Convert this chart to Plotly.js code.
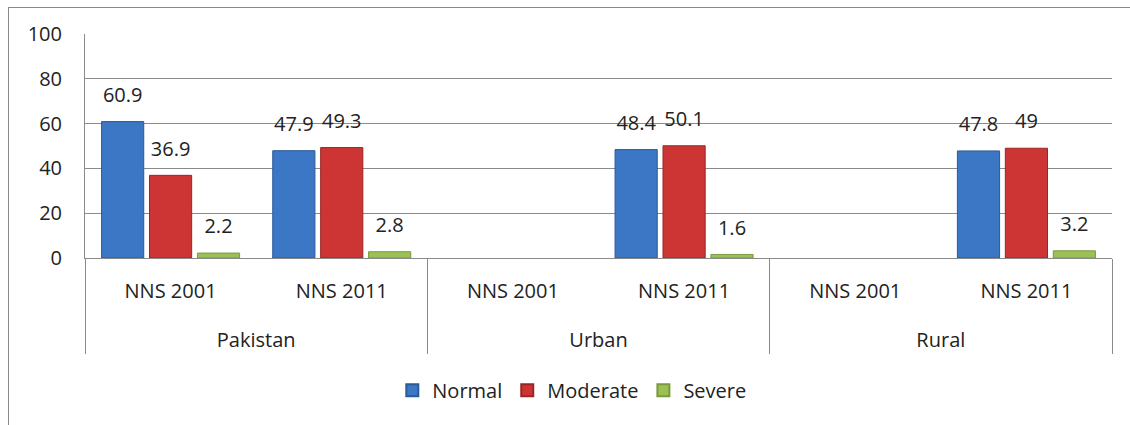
<!DOCTYPE html>
<html>
<head>
<meta charset="utf-8">
<script src="https://cdn.plot.ly/plotly-3.0.1.min.js"></script>
<style>
  html, body { margin: 0; padding: 0; background: #fff; }
  #frame { position: absolute; left: 8px; top: 7px; width: 1125px; height: 430px;
           border-top: 1px solid #8a8a8a; border-left: 1px solid #8a8a8a; }
  #chart { position: absolute; left: 0; top: 0; width: 1130px; height: 425px; }
</style>
</head>
<body>
<div id="frame"></div>
<div id="chart"></div>
<script>
const groups = ['Pakistan', 'Pakistan', 'Urban', 'Urban', 'Rural', 'Rural'];
const surveys = ['NNS 2001', 'NNS 2011', 'NNS 2001', 'NNS 2011', 'NNS 2001', 'NNS 2011'];
const normal = [60.9, 47.9, null, 48.4, null, 47.8];
const moderate = [36.9, 49.3, null, 50.1, null, 49];
const severe = [2.2, 2.8, null, 1.6, null, 3.2];

const font = 'Open Sans, sans-serif';
const ink = '#222222';

// tall blank second line under each survey label pushes the group row down
const xcats = [groups, surveys.map(s => s + '<br><span style="font-size:46px"> </span>')];

function bars(name, values, color, edge) {
    return {
        type: 'bar',
        name: name,
        x: xcats,
        y: values,
        marker: { color: color, line: { color: edge, width: 1 } },
        hoverinfo: 'skip'
    };
}

// value labels, offset like the bars and lifted a little above them
function labels(values) {
    return {
        type: 'scatter',
        mode: 'markers+text',
        x: xcats,
        y: values,
        text: values.map(v => v === null ? '' : String(v)),
        textposition: 'top center',
        textfont: { family: font, size: 20, color: ink },
        marker: { size: 22, opacity: 0 },
        cliponaxis: false,
        showlegend: false,
        hoverinfo: 'skip'
    };
}

const data = [
    bars('Normal', normal, '#3b77c4', '#2a5a98'),
    bars('Moderate', moderate, '#cc3533', '#9a2624'),
    bars('Severe', severe, '#9bc053', '#7a9a3c'),
    labels(normal),
    labels(moderate),
    labels(severe)
];

const layout = {
    width: 1130,
    height: 425,
    margin: { l: 85, r: 18, t: 34, b: 167 },
    paper_bgcolor: 'rgba(0,0,0,0)',
    plot_bgcolor: 'rgba(0,0,0,0)',
    barmode: 'group',
    bargap: 0.16,
    bargroupgap: 0.12,
    scattermode: 'group',
    scattergap: 0.16,
    showlegend: true,
    legend: {
        orientation: 'h',
        x: 0.474, xanchor: 'center',
        y: -0.59, yanchor: 'middle',
        font: { family: font, size: 20, color: ink },
        itemsizing: 'constant',
        itemwidth: 30,
        tracegroupgap: 0
    },
    xaxis: {
        type: 'multicategory',
        showline: true,
        linecolor: '#8a8a8a',
        linewidth: 1,
        showdividers: true,
        dividercolor: '#8a8a8a',
        dividerwidth: 1,
        tickfont: { family: font, size: 20, color: ink },
        ticks: '',
        ticklabelstandoff: 15
    },
    yaxis: {
        range: [0, 100],
        tickvals: [0, 20, 40, 60, 80, 100],
        showline: true,
        linecolor: '#8a8a8a',
        showgrid: true,
        gridcolor: '#8a8a8a',
        gridwidth: 1,
        zeroline: false,
        ticks: '',
        ticklabelstandoff: 18,
        tickfont: { family: font, size: 20, color: ink }
    }
};

Plotly.newPlot('chart', data, layout, { displayModeBar: false, staticPlot: true });
</script>
</body>
</html>
